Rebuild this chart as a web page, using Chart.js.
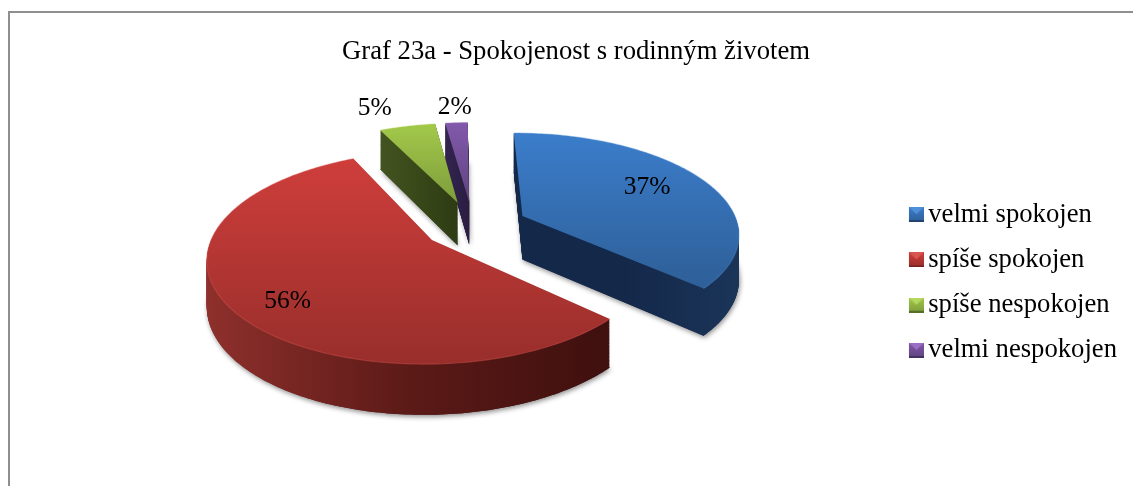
<!DOCTYPE html>
<html lang="cs"><head><meta charset="utf-8">
<style>html,body{margin:0;padding:0;background:#fff}canvas{display:block}</style>
<script src="https://cdn.jsdelivr.net/npm/chart.js@4/dist/chart.umd.min.js"></script>
</head><body>
<canvas id="c" width="1133" height="486"></canvas>
<script>
const chartTitle = 'Graf 23a - Spokojenost s rodinným životem';
const categories = ['velmi spokojen','spíše spokojen','spíše nespokojen','velmi nespokojen'];
const shares = [37,56,5,2];
const explode = [55,50,55,55];
const baseColors = ['#3a70b4','#b53533','#8fb144','#6e4f95'];
const topColors = [['#3b7dcb','#2e5f97'],['#ce3e3b','#982e2b'],['#a3c94a','#7d9c3c'],['#8259ab','#5f4480']];
const wallColors = [['#14284a','#14284a','#1a3558'],['#8e302c','#5c1a17','#3e100e'],['#435421','#384818','#2e3b14'],['#33254e','#2e2148','#2a1d40']];
const rimColors = ['#4f8fd8','#d9554f','#b5d860','#9a70c4'];
const drawOrder = [3,2,0,1];
const labelRadial = [0.70,0.79,1.315,1.23];
const labelTurn = [-2.4,-6.3,-5,0.2];

// projection of the flat pie library geometry to a tilted, perspective view
const VIEW = {cx:473, cy:226, tilt:0.459, focal:1342, radius:216, depth:44};
function proj(u,v,t){
  const s = 1/(1 - v/VIEW.focal);
  return {x: VIEW.cx + u*s, y: VIEW.cy + VIEW.tilt*v*s + t*VIEW.depth*Math.pow(s,0.7)};
}
function arcGeom(arc){
  const start = arc.startAngle, end = arc.endAngle, mid=(start+end)/2, off = arc.options.offset;
  return {start,end,mid,ou:Math.cos(mid)*off,ov:Math.sin(mid)*off};
}
function wedge(ctx,g,t){
  const R = VIEW.radius, steps = Math.max(6,Math.ceil((g.end-g.start)*60));
  const a = proj(g.ou,g.ov,t);
  ctx.beginPath(); ctx.moveTo(a.x,a.y);
  for(let i=0;i<=steps;i++){
    const th = g.start+(g.end-g.start)*i/steps;
    const p = proj(g.ou+Math.cos(th)*R, g.ov+Math.sin(th)*R, t);
    ctx.lineTo(p.x,p.y);
  }
  ctx.closePath();
}
function bounds(g){
  const R = VIEW.radius, pts=[proj(g.ou,g.ov,0)];
  for(let i=0;i<=60;i++){const th=g.start+(g.end-g.start)*i/60;pts.push(proj(g.ou+Math.cos(th)*R,g.ov+Math.sin(th)*R,0));}
  return {x0:Math.min(...pts.map(p=>p.x)),x1:Math.max(...pts.map(p=>p.x)),y0:Math.min(...pts.map(p=>p.y)),y1:Math.max(...pts.map(p=>p.y))};
}
const pie3d = {
  id:'pie3d',
  beforeDraw(chart){
    const c=chart.ctx; c.save();
    c.fillStyle='#fff'; c.fillRect(0,0,chart.width,chart.height);
    c.fillStyle='#8f8f8f';
    c.fillRect(8,11,chart.width-8,2);
    c.fillRect(8,11,2,chart.height-11);
    c.restore();
  },
  beforeDatasetDraw(chart){
    const c=chart.ctx, arcs=chart.getDatasetMeta(0).data;
    drawOrder.forEach(i=>{
      const g=arcGeom(arcs[i]), b=bounds(g);
      const wg=c.createLinearGradient(b.x0,0,b.x1,0);
      wallColors[i].forEach((col,k)=>wg.addColorStop(k/(wallColors[i].length-1),col));
      c.save();
      c.shadowColor='rgba(0,0,0,0.45)'; c.shadowBlur=5; c.shadowOffsetX=1; c.shadowOffsetY=2;
      c.fillStyle=wg; wedge(c,g,1); c.fill();
      c.restore();
      c.fillStyle=wg;
      for(let k=60;k>=1;k--){ wedge(c,g,k/60); c.fill(); }
      const tg=c.createLinearGradient(0,b.y0,0,b.y1);
      tg.addColorStop(0,topColors[i][0]); tg.addColorStop(1,topColors[i][1]);
      c.fillStyle=tg; wedge(c,g,0); c.fill();
      // bright rim on the outer edge
      c.save(); c.strokeStyle=rimColors[i]; c.globalAlpha=0.4; c.lineWidth=1.2; c.beginPath();
      const R=VIEW.radius;
      for(let j=0;j<=80;j++){const th=g.start+(g.end-g.start)*j/80;const p=proj(g.ou+Math.cos(th)*R,g.ov+Math.sin(th)*R,0);
        if(j)c.lineTo(p.x,p.y);else c.moveTo(p.x,p.y);}
      c.stroke(); c.restore();
    });
    return false;
  },
  afterDatasetsDraw(chart){
    const c=chart.ctx, arcs=chart.getDatasetMeta(0).data;
    c.save(); c.fillStyle='#000'; c.font='25.5px "Liberation Serif"'; c.textAlign='center'; c.textBaseline='middle';
    arcs.forEach((arc,i)=>{
      const g=arcGeom(arc), th=g.mid+labelTurn[i]*Math.PI/180, r=VIEW.radius*labelRadial[i];
      const p=proj(g.ou+Math.cos(th)*r,g.ov+Math.sin(th)*r,0);
      c.fillText(shares[i]+'%',p.x,p.y);
    });
    c.restore();
  }
};
function marker(i){
  const m=document.createElement('canvas'); m.width=19; m.height=15;
  const x=m.getContext('2d');
  x.translate(4,0);
  const gr=x.createLinearGradient(0,0,0,15);
  gr.addColorStop(0,topColors[i][0]); gr.addColorStop(1,topColors[i][1]);
  x.fillStyle=gr; x.fillRect(0,0,15,15);
  x.fillStyle=rimColors[i]; x.beginPath(); x.moveTo(0,0); x.lineTo(15,0); x.lineTo(7.5,7); x.closePath(); x.fill();
  x.fillStyle=wallColors[i][1]; x.globalAlpha=.55; x.fillRect(0,13,15,2);
  return m;
}
new Chart(document.getElementById('c'),{
  type:'pie',
  plugins:[pie3d],
  data:{labels:categories,datasets:[{data:shares,backgroundColor:baseColors,offset:explode,borderWidth:0}]},
  options:{
    responsive:false,animation:false,rotation:-0.6,
    layout:{padding:{left:25,right:6,top:36,bottom:0}},
    events:[],
    plugins:{
      tooltip:{enabled:false},
      title:{display:true,text:chartTitle,color:'#000',font:{family:'"Liberation Serif"',size:26.67,weight:'normal'},padding:{top:0,bottom:11}},
      legend:{position:'right',fullSize:false,
        labels:{usePointStyle:true,boxWidth:1,color:'#000',padding:18.6,font:{family:'"Liberation Serif"',size:26.67},
          generateLabels:ch=>categories.map((t,i)=>({text:t,pointStyle:marker(i),fillStyle:baseColors[i],strokeStyle:baseColors[i],lineWidth:0,hidden:false,index:i}))}}
    }
  }
});
</script>
</body></html>
